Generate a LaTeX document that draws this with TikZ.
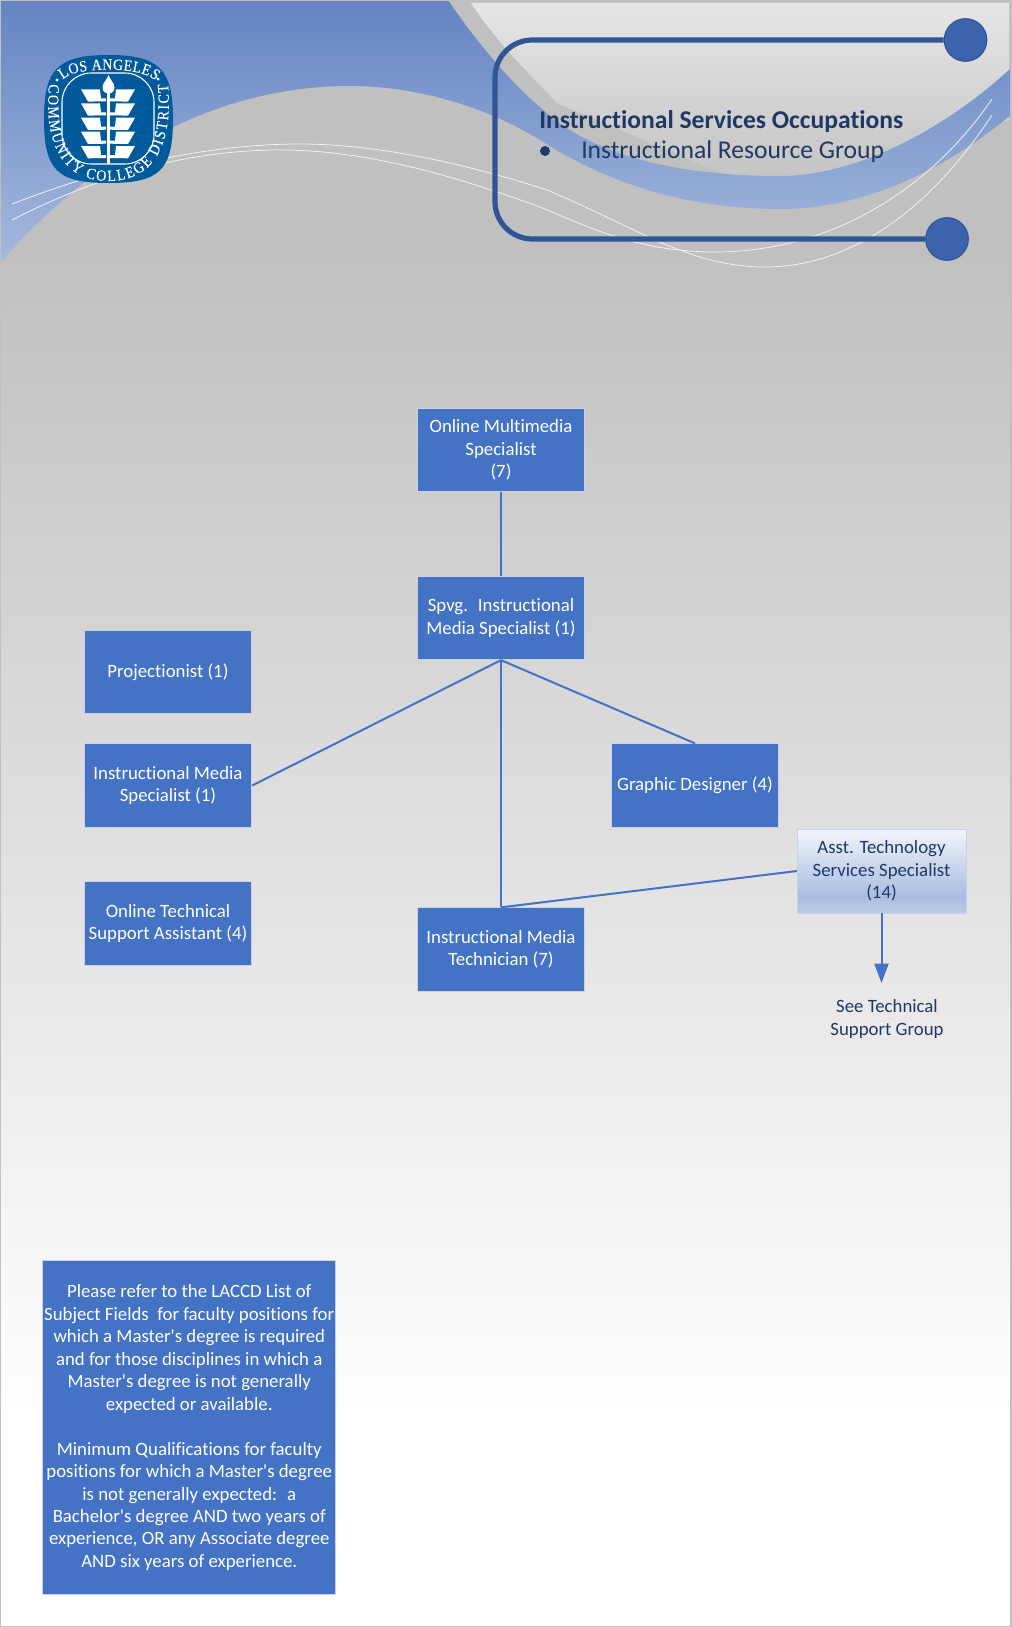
\documentclass[tikz,border=0pt]{standalone}
\usepackage{fontspec}
\setmainfont[Ligatures=NoCommon]{Carlito}
\newfontfamily\plainq[Ligatures=NoCommon]{Carlito}
\newfontfamily\logoserif[FakeStretch=0.88,FakeBold=0.3]{Liberation Serif}
\usetikzlibrary{arrows.meta,decorations.text,shapes.geometric}
\definecolor{boxblue}{HTML}{4472C4}
\definecolor{boxedge}{HTML}{C9D1E2}
\definecolor{navy}{HTML}{1F3864}
\definecolor{frameblue}{HTML}{2F5597}
\definecolor{dotblue}{HTML}{3C63AC}
\definecolor{logoblue}{HTML}{005A9C}
\definecolor{bggray}{HTML}{C0C0C0}
\definecolor{paneltop}{HTML}{E6E6E6}
\definecolor{panelbot}{HTML}{C2C2C2}
\definecolor{swooshtop}{HTML}{6484C2}
\definecolor{swooshbot}{HTML}{A6B9DE}
\definecolor{asstA}{HTML}{F2F5FC}
\definecolor{asstB}{HTML}{A9BCE0}
\definecolor{asstC}{HTML}{BDCBE8}
\newcommand{\logofontcmd}{\logoserif\fontsize{11.8}{12}\selectfont}
\newcommand{\apos}{{\plainq\char39\relax}}
\tikzset{
  x=0.75pt,y=-0.75pt,
  bodyfont/.style={font=\fontsize{14.1}{16.87}\selectfont},
  posbox/.style={draw=boxedge,line width=0.7pt,fill=boxblue,text=white,bodyfont,align=center,inner sep=0pt,minimum width=125.5pt,minimum height=62.5pt},
  link/.style={draw=boxblue,line width=1.5pt},
  hair/.style={draw=white!85!bggray,line width=0.55pt},
  ring/.style={draw=frameblue,line width=3.9pt,rounded corners=28pt},
  framedot/.style={shape=ellipse,draw=frameblue,line width=0.8pt,fill=dotblue,inner sep=0pt,minimum width=32pt,minimum height=32pt},
  titletext/.style={text=navy,inner sep=0pt,anchor=base west},
}
\newcommand{\leafpair}[1]{%
  \fill[white] (81,#1) -- (100,#1) -- (101,#1+9) -- (106,#1+9) -- (106,#1+12) -- (88,#1+12.3) -- cycle;
  \fill[white] (135,#1) -- (116,#1) -- (115,#1+9) -- (110,#1+9) -- (110,#1+12) -- (128,#1+12.3) -- cycle;
}
\begin{document}
\begin{tikzpicture}
\useasboundingbox (0,0) rectangle (1011,1627);
% page background
\fill[bggray] (0,0) rectangle (1011,251);
\shade[top color=bggray,bottom color=white] (0,250) rectangle (1011,1420);
\fill[white] (0,1419) rectangle (1011,1627);
% light panel top right
\shade[top color=paneltop,bottom color=panelbot] (471,3) -- (1009,3) -- (1009,120) -- (760,190) -- (557,103) .. controls (530,75) and (495,40) .. (471,3) -- cycle;
% blue swoosh
\shade[top color=swooshtop,bottom color=swooshbot] (0,0) -- (448,0)
  .. controls (475,40) and (510,82) .. (540,107)
  .. controls (595,160) and (690,176) .. (780,176)
  .. controls (860,176) and (950,125) .. (1011,68)
  -- (1011,115)
  .. controls (950,165) and (870,209) .. (780,209)
  .. controls (690,209) and (610,185) .. (540,140)
  .. controls (500,115) and (430,86) .. (350,86)
  .. controls (200,86) and (80,170) .. (0,263) -- cycle;
% page edge
\draw[bggray,line width=0.8pt] (0,0) rectangle (1011,1627);
% hair lines
\draw[hair] (12,204) .. controls (100,170) and (200,144) .. (300,144) .. controls (380,144) and (470,165) .. (547,190) .. controls (600,212) and (650,240) .. (680,250) .. controls (710,262) and (740,267) .. (765,267) .. controls (850,267) and (930,210) .. (992,115);
\draw[hair] (12,220) .. controls (90,180) and (180,150) .. (280,150) .. controls (370,150) and (460,178) .. (540,207) .. controls (590,228) and (640,252) .. (715,252) .. controls (830,252) and (930,190) .. (992,99);
% title frame
\node[framedot] (topdot) at (965.5,40) {};
\node[framedot] (botdot) at (947,239) {};
\draw[ring] (topdot.west) -- (495,40) -- (495,239) -- (botdot.west);
\node[titletext,font=\fontsize{19.2}{22}\selectfont\bfseries] (titlea) at (539,128) {Instructional Services Occupations};
\node[titletext,font=\fontsize{19.2}{22}\selectfont] (titleb) at (581,158) {Instructional Resource Group};
\node[shape=circle,fill=navy,inner sep=0pt,minimum size=7.5pt] (bullet) at (545,151) {};
% logo
\fill[logoblue] (108.5,55) .. controls (160,55) and (173,70) .. (173,119) .. controls (173,170) and (160,183) .. (108.5,183) .. controls (57,183) and (44,170) .. (44,119) .. controls (44,70) and (57,55) .. (108.5,55) -- cycle;
\draw[white,line width=0.8pt,rounded corners=22pt] (62,73) rectangle (154,164);
\fill[white] (107.2,86) rectangle (109.8,164);
\fill[white] (108.5,75) .. controls (110,80) and (114.5,83) .. (114.5,87.5) .. controls (114.5,91) and (112,93.5) .. (108.5,93.5) .. controls (105,93.5) and (102.5,91) .. (102.5,87.5) .. controls (102.5,83) and (107,80) .. (108.5,75) -- cycle;
\leafpair{89.3}
\leafpair{103.3}
\leafpair{117.7}
\leafpair{131.7}
\leafpair{146}
\path[decorate,decoration={text along path,text={|\logofontcmd\color{white}|LOS ANGELES},text align={fit to path}}] (63,80) .. controls (72,66) and (145,66) .. (155,81);
\path[decorate,decoration={text along path,text={|\logofontcmd\color{white}|COMMUNITY COLLEGE DISTRICT},text align={fit to path}}] (49,84) .. controls (44,140) and (60,181) .. (108,181) .. controls (157,181) and (173,140) .. (168,84);
\fill[white] (57,80) circle[radius=1.2pt];
\fill[white] (158,79) circle[radius=1.2pt];
% chart
\node[posbox] (om) at (501,450) {Online Multimedia\\Specialist\\(7)};
\node[posbox] (spvg) at (501,618) {Spvg.~ Instructional\\Media Specialist (1)};
\node[posbox] (proj) at (168,672) {Projectionist (1)};
\node[posbox] (ims) at (168,785.5) {Instructional Media\\Specialist (1)};
\node[posbox] (ots) at (168,923.5) {Online Technical\\Support Assistant (4)};
\node[posbox] (gd) at (695,785.5) {Graphic Designer (4)};
\node[posbox] (imt) at (501,949.5) {Instructional Media\\Technician (7)};
\path[top color=asstA,bottom color=asstB] (797,829) rectangle (966,897);
\path[bottom color=asstC,top color=asstB] (797,896) rectangle (966,913);
\draw[boxedge,line width=0.7pt] (797,829) rectangle (966,913);
\node[bodyfont,text=navy,align=center,inner sep=0pt,minimum width=126.5pt,minimum height=63pt] (asst) at (881.5,871) {Asst. Technology\\Services Specialist\\(14)};
\coordinate (seeend) at (881.5,983);
\node[bodyfont,text=navy,align=center,inner sep=0pt] (see) at (887,1019) {See Technical\\Support Group};
\draw[link] (om) -- (spvg);
\draw[link] (spvg.south) -- (ims.east);
\draw[link] (spvg.south) -- (gd.north);
\draw[link] (spvg.south) -- (imt.north);
\draw[link] (asst.west) -- (imt.north);
\draw[link,-{Triangle[length=14.5pt,width=10.5pt]}] (asst.south) -- (seeend);
\node[posbox,minimum width=220pt,minimum height=250.5pt] (note) at (189.25,1427.5) {Please refer to the LACCD List of\\Subject Fields~ for faculty positions for\\which a Master\apos s degree is required\\and for those disciplines in which a\\Master\apos s degree is not generally\\expected or available.\\[16.87pt]Minimum Qualifications for faculty\\positions for which a Master\apos s degree\\is not generally expected:~ a\\Bachelor\apos s degree AND two years of\\experience, OR any Associate degree\\AND six years of experience.};
\end{tikzpicture}
\end{document}
